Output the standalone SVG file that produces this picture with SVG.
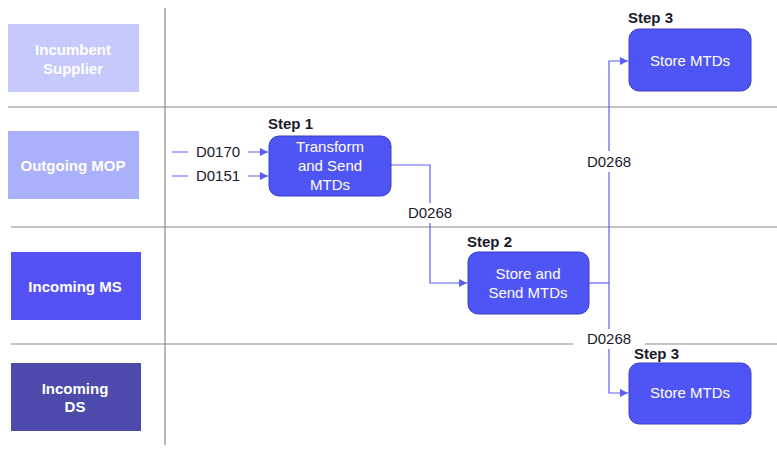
<svg xmlns="http://www.w3.org/2000/svg" width="777" height="450" viewBox="0 0 777 450">
<defs>
<marker id="arr" viewBox="0 0 10 10" refX="10" refY="5" markerWidth="8" markerHeight="8" markerUnits="userSpaceOnUse" orient="auto">
<path d="M0,0 L10,5 L0,10 z" fill="#5a5ef5"/>
</marker>
<style>
.lane{stroke:none}
.lt{font-family:"Liberation Sans",Arial,sans-serif;font-size:15px;font-weight:bold;fill:#ffffff;text-anchor:middle}
.grid{stroke:#8a8a8a;stroke-width:1.2;fill:none}
.box{fill:#4f55f5;stroke:#3a3ec8;stroke-width:1}
.bt{font-family:"Liberation Sans",Arial,sans-serif;font-size:15px;fill:#ffffff;text-anchor:middle}
.st{font-family:"Liberation Sans",Arial,sans-serif;font-size:15px;font-weight:bold;fill:#1a1a2a}
.lab{font-family:"Liberation Sans",Arial,sans-serif;font-size:15px;fill:#1a1a2a;text-anchor:middle}
.c{stroke:#5a5ef5;stroke-width:1.2;fill:none}
</style>
</defs>
<rect width="777" height="450" fill="#ffffff"/>
<g id="grid">
<line class="grid" x1="165" y1="8" x2="165" y2="445"/>
<line class="grid" x1="8" y1="107" x2="777" y2="107"/>
<line class="grid" x1="11" y1="227" x2="777" y2="227"/>
<line class="grid" x1="11" y1="344" x2="777" y2="344"/>
</g>
<g id="lane-incumbent-supplier">
<rect class="lane" x="8" y="24" width="131" height="68" fill="#c5c9fb"/>
<text class="lt" x="73" y="55">Incumbent</text>
<text class="lt" x="73" y="74">Supplier</text>
</g>
<g id="lane-outgoing-mop">
<rect class="lane" x="8" y="131" width="131" height="68" fill="#aab0fa"/>
<text class="lt" x="73" y="171">Outgoing MOP</text>
</g>
<g id="lane-incoming-ms">
<rect class="lane" x="11" y="252" width="130" height="68" fill="#5452f5"/>
<text class="lt" x="75" y="292">Incoming MS</text>
</g>
<g id="lane-incoming-ds">
<rect class="lane" x="11" y="363" width="130" height="68" fill="#4c4bab"/>
<text class="lt" x="75" y="394">Incoming</text>
<text class="lt" x="75" y="412">DS</text>
</g>
<g id="connectors">
<line class="c" x1="172" y1="152" x2="268" y2="152" marker-end="url(#arr)"/>
<line class="c" x1="172" y1="176" x2="268" y2="176" marker-end="url(#arr)"/>
<polyline class="c" points="391,165 430,165 430,283 467,283" marker-end="url(#arr)"/>
<line class="c" x1="589" y1="283" x2="609" y2="283"/>
<polyline class="c" points="609,283 609,61 628,61" marker-end="url(#arr)"/>
<polyline class="c" points="609,283 609,393 628,393" marker-end="url(#arr)"/>
<rect x="188" y="142" width="60" height="20" fill="#ffffff"/>
<text class="lab" x="218" y="157">D0170</text>
<rect x="188" y="166" width="60" height="20" fill="#ffffff"/>
<text class="lab" x="218" y="181">D0151</text>
<rect x="404" y="203" width="52" height="20" fill="#ffffff"/>
<text class="lab" x="430" y="218">D0268</text>
<rect x="584" y="151" width="50" height="21" fill="#ffffff"/>
<text class="lab" x="609" y="167">D0268</text>
<rect x="573" y="329" width="72" height="20" fill="#ffffff"/>
<text class="lab" x="609" y="344">D0268</text>
</g>
<g id="step1">
<text class="st" x="268" y="129">Step 1</text>
<rect class="box" x="269" y="136" width="122" height="60" rx="10"/>
<text class="bt" x="330" y="152">Transform</text>
<text class="bt" x="330" y="171">and Send</text>
<text class="bt" x="330" y="190">MTDs</text>
</g>
<g id="step2">
<text class="st" x="467" y="247">Step 2</text>
<rect class="box" x="468" y="252" width="121" height="62" rx="10"/>
<text class="bt" x="528" y="279">Store and</text>
<text class="bt" x="528" y="298">Send MTDs</text>
</g>
<g id="step3-top">
<text class="st" x="628" y="23">Step 3</text>
<rect class="box" x="629" y="29" width="122" height="62" rx="10"/>
<text class="bt" x="690" y="66">Store MTDs</text>
</g>
<g id="step3-bottom">
<text class="st" x="634" y="359">Step 3</text>
<rect class="box" x="629" y="363" width="122" height="61" rx="10"/>
<text class="bt" x="690" y="398">Store MTDs</text>
</g>
</svg>
